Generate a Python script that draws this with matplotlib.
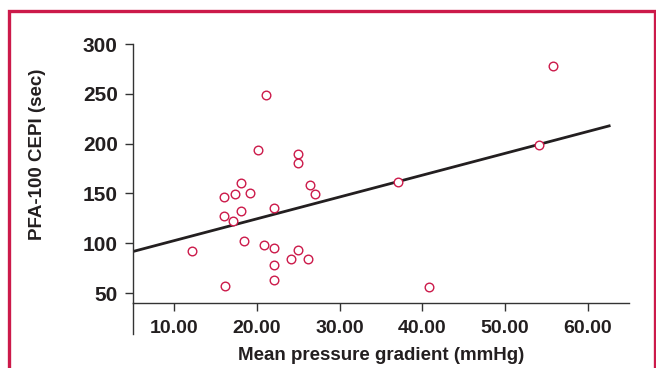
import numpy as np
import matplotlib
matplotlib.use('Agg')
import matplotlib.pyplot as plt
from matplotlib.patches import Rectangle
from matplotlib.lines import Line2D

# gradient (mmHg) vs PFA-100 CEPI (sec)
gradient = [21.1, 20.1, 25.0, 25.0, 18.1, 26.4, 17.3, 19.2, 16.05, 27.05,
            22.0, 16.05, 17.05, 18.1, 18.4, 12.1, 20.9, 22.0, 25.0, 24.1,
            26.2, 22.0, 22.0, 16.1, 55.8, 54.1, 37.0, 40.8]
cepi = [249, 194, 190, 181, 160, 158, 149, 150, 146, 149,
        135.5, 127.5, 122.5, 132.5, 102.4, 92.4, 98.7, 95, 93.4, 84,
        84, 78.6, 62.6, 57.3, 277.6, 198.7, 161.3, 55.6]

# fit line ends
fit_x = [5.0, 62.6]
fit_y = [91.7, 217.8]

xticks = [10, 20, 30, 40, 50, 60]
yticks = [50, 100, 150, 200, 250, 300]

red = '#cc1a4a'
dark = '#231f20'

plt.rcParams['font.family'] = ['Liberation Sans', 'DejaVu Sans']

fig = plt.figure(figsize=(6.56, 3.68), dpi=100)
ax = fig.add_axes([133/656, 1-303/368, (629-133)/656, (303-44)/368])

ax.plot(fit_x, fit_y, color=dark, lw=2.0, zorder=2)
ax.plot(gradient, cepi, 'o', mfc='white', mec=red, mew=1.0, ms=6.2, zorder=3)

ax.set_xlim(5, 65)
ax.set_ylim(40, 300)
ax.set_xticks(xticks)
ax.set_xticklabels([f'{v:.2f}' for v in xticks])
ax.set_yticks(yticks)

for s in ['top', 'right']:
    ax.spines[s].set_visible(False)
for s in ['left', 'bottom']:
    ax.spines[s].set_color('#333333')
    ax.spines[s].set_linewidth(1.0)

ax.tick_params(axis='both', direction='out', length=6, width=1.0, color='#333333',
               labelcolor=dark)
ax.tick_params(axis='x', pad=6, labelsize=14)
ax.tick_params(axis='y', pad=5, labelsize=15)
for lab in ax.get_xticklabels() + ax.get_yticklabels():
    lab.set_fontweight('bold')

# left axis runs on below the x axis
ax.add_line(Line2D([0, 0], [0, -31/259], transform=ax.transAxes, color='#333333',
                   lw=1.0, clip_on=False))

ax.set_xlabel('Mean pressure gradient (mmHg)', fontsize=13.5, fontweight='bold',
              color=dark)
ax.set_ylabel('PFA-100 CEPI (sec)', fontsize=13.5, fontweight='bold', color=dark)
ax.xaxis.set_label_coords(0.5, -53/259, transform=ax.transAxes)
ax.yaxis.set_label_coords(-95/496, 148.5/259, transform=ax.transAxes)
ax.xaxis.label.set_va('center')
ax.yaxis.label.set_va('center')

# red frame around the figure
fig.patches.append(Rectangle((9/656, -0.05), (655-9)/656, 1-11.5/368 + 0.05,
                             transform=fig.transFigure, fill=False,
                             edgecolor=red, lw=2.4))

fig.savefig('out.png', dpi=100)
